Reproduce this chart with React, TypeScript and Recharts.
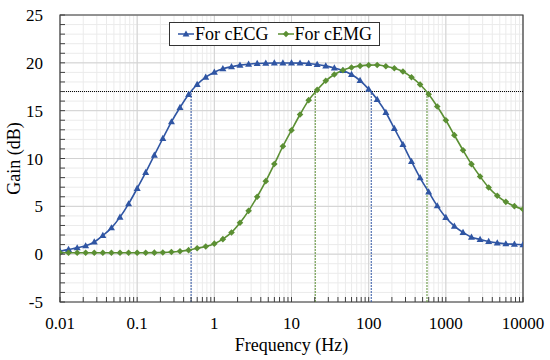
import {
  CartesianGrid,
  Legend,
  Line,
  LineChart,
  ReferenceArea,
  ReferenceLine,
  XAxis,
  YAxis,
} from "recharts";

// Sample frequencies (Hz), 9 points per decade.
const frequencies = [
  0.01, 0.0129, 0.0167, 0.0215, 0.0278, 0.0359, 0.0464, 0.0599, 0.0774,
  0.1, 0.129, 0.167, 0.215, 0.278, 0.359, 0.464, 0.599, 0.774,
  1, 1.29, 1.67, 2.15, 2.78, 3.59, 4.64, 5.99, 7.74,
  10, 12.9, 16.7, 21.5, 27.8, 35.9, 46.4, 59.9, 77.4,
  100, 129, 167, 215, 278, 359, 464, 599, 774,
  1000, 1290, 1670, 2150, 2780, 3590, 4640, 5990, 7740,
  10000,
];

const gainECG = [
  0.31, 0.5, 0.66, 0.87, 1.27, 1.95, 2.75, 3.87, 5.26,
  6.87, 8.54, 10.35, 12.09, 13.83, 15.33, 16.69, 17.73, 18.5,
  19.02, 19.38, 19.6, 19.76, 19.86, 19.93, 19.96, 19.98, 19.99,
  19.99, 19.97, 19.93, 19.83, 19.68, 19.47, 19.2, 18.78, 18.15,
  17.25, 16.17, 14.81, 13.14, 11.47, 9.69, 7.98, 6.51, 5.05,
  3.84, 2.93, 2.27, 1.78, 1.54, 1.33, 1.18, 1.08, 1.03,
  0.98,
];

const gainEMG = [
  0.15, 0.15, 0.15, 0.15, 0.15, 0.15, 0.15, 0.15, 0.15,
  0.15, 0.15, 0.16, 0.18, 0.22, 0.3, 0.42, 0.62, 0.8,
  1.1, 1.57, 2.27, 3.28, 4.53, 6.0, 7.63, 9.42, 11.28,
  12.96, 14.6, 16.1, 17.17, 18.12, 18.78, 19.23, 19.51, 19.68,
  19.76, 19.77, 19.65, 19.44, 19.1, 18.5, 17.73, 16.72, 15.43,
  14.0, 12.44, 10.87, 9.41, 8.12, 6.97, 6.1, 5.47, 5.02,
  4.7,
];

const xTickValues = [
  0.01, 0.02, 0.03, 0.04, 0.05, 0.06, 0.07, 0.08, 0.09,
  0.1, 0.2, 0.3, 0.4, 0.5, 0.6, 0.7, 0.8, 0.9,
  1, 2, 3, 4, 5, 6, 7, 8, 9,
  10, 20, 30, 40, 50, 60, 70, 80, 90,
  100, 200, 300, 400, 500, 600, 700, 800, 900,
  1000, 2000, 3000, 4000, 5000, 6000, 7000, 8000, 9000,
  10000,
];
const xMajorTicks = [0.01, 0.1, 1, 10, 100, 1000, 10000];
const xTickLabels = ["0.01", "0.1", "1", "10", "100", "1000", "10000"];

const yTickValues = [
  -5, -4, -3, -2, -1, 0, 1, 2, 3, 4, 5, 6, 7, 8, 9, 10, 11, 12, 13, 14, 15,
  16, 17, 18, 19, 20, 21, 22, 23, 24, 25,
];
const yMajorTicks = [-5, 0, 5, 10, 15, 20, 25];

// -3 dB level and the cutoff frequencies marked on the plot.
const cutoffLevel = 17;
const cutoffsECG = [0.5, 108];
const cutoffsEMG = [20.3, 570];

const data = frequencies.map((f, i) => ({
  f,
  ecg: gainECG[i],
  emg: gainEMG[i],
}));

const BLUE = "#2F55A3";
const GREEN = "#5B8F33";
const AXIS = "#404040";
const FONT = '"Liberation Serif", "Times New Roman", serif';

function TriangleDot(props: any) {
  const { cx, cy, index } = props;
  if (cx == null || cy == null) return null;
  return (
    <path
      key={`t${index}`}
      d={`M${cx},${cy - 3.7}L${cx + 3.5},${cy + 2.5}L${cx - 3.5},${cy + 2.5}Z`}
      fill={BLUE}
    />
  );
}

function DiamondDot(props: any) {
  const { cx, cy, index } = props;
  if (cx == null || cy == null) return null;
  return (
    <path
      key={`d${index}`}
      d={`M${cx},${cy - 3.3}L${cx + 3.3},${cy}L${cx},${cy + 3.3}L${cx - 3.3},${cy}Z`}
      fill={GREEN}
    />
  );
}

function FreqTick({ x, y, payload }: any) {
  const idx = xMajorTicks.indexOf(payload.value);
  return (
    <g>
      <line x1={x} x2={x} y1={y} y2={y - 5} stroke={AXIS} />
      {idx >= 0 && (
        <text x={x} y={y + 27} textAnchor="middle" fontSize={17} fill="#000">
          {xTickLabels[idx]}
        </text>
      )}
    </g>
  );
}

function GainTick({ x, y, payload }: any) {
  const major = yMajorTicks.includes(payload.value);
  return (
    <g>
      <line x1={x} x2={x + 5} y1={y} y2={y} stroke={AXIS} />
      {major && (
        <text x={x - 17} y={y + 6} textAnchor="end" fontSize={17} fill="#000">
          {payload.value}
        </text>
      )}
    </g>
  );
}

function LegendBox() {
  const items = [
    { label: "For cECG", color: BLUE, shape: "tri" },
    { label: "For cEMG", color: GREEN, shape: "dia" },
  ];
  return (
    <div
      style={{
        display: "flex",
        alignItems: "center",
        gap: 9,
        height: 22,
        padding: "0 7px 0 8px",
        border: "1px solid #333",
        background: "#fff",
        fontFamily: FONT,
        fontSize: 18,
        lineHeight: "22px",
        whiteSpace: "nowrap",
      }}
    >
      {items.map((it) => (
        <div key={it.label} style={{ display: "flex", alignItems: "center" }}>
          <svg width={16} height={10} style={{ marginRight: 1 }}>
            <line x1={0} x2={16} y1={5} y2={5} stroke={it.color} strokeWidth={1.5} />
            {it.shape === "tri" ? (
              <path d="M8,1.4L11.4,7.4L4.6,7.4Z" fill={it.color} />
            ) : (
              <path d="M8,1.8L11.2,5L8,8.2L4.8,5Z" fill={it.color} />
            )}
          </svg>
          <span>{it.label}</span>
        </div>
      ))}
    </div>
  );
}

export default function App() {
  return (
    <div
      style={{
        position: "absolute",
        left: 0,
        top: 0,
        width: 550,
        height: 360,
        background: "#fff",
        fontFamily: FONT,
      }}
    >
      <LineChart
        width={550}
        height={360}
        data={data}
        margin={{ top: 15, right: 27, bottom: 0, left: 0 }}
      >
        <CartesianGrid
          stroke="#EBEBEB"
          horizontalValues={yTickValues}
          verticalValues={xTickValues}
          syncWithTicks
        />
        <CartesianGrid
          stroke="#D2D2D2"
          horizontalValues={yMajorTicks}
          verticalValues={xMajorTicks}
          syncWithTicks
        />
        <XAxis
          dataKey="f"
          type="number"
          scale="log"
          domain={[0.01, 10000]}
          allowDataOverflow
          ticks={xTickValues}
          interval={0}
          tick={<FreqTick />}
          tickLine={false}
          tickSize={0}
          tickMargin={0}
          axisLine={false}
          height={58}
          label={{
            value: "Frequency (Hz)",
            position: "insideBottom",
            offset: 9,
            fontSize: 18,
            fill: "#000",
          }}
        />
        <YAxis
          type="number"
          domain={[-5, 25]}
          allowDataOverflow
          ticks={yTickValues}
          interval={0}
          tick={<GainTick />}
          tickLine={false}
          tickSize={0}
          tickMargin={0}
          axisLine={false}
          width={60}
          label={{
            value: "Gain (dB)",
            angle: -90,
            position: "insideLeft",
            offset: 14,
            fontSize: 18,
            fill: "#000",
            style: { textAnchor: "middle" },
          }}
        />
        <ReferenceLine
          y={cutoffLevel}
          stroke="#000"
          strokeWidth={1}
          strokeDasharray="1 1"
        />
        {cutoffsECG.map((f) => (
          <ReferenceLine
            key={`e${f}`}
            segment={[
              { x: f, y: -5 },
              { x: f, y: cutoffLevel },
            ]}
            stroke={BLUE}
            strokeDasharray="2 1"
          />
        ))}
        {cutoffsEMG.map((f) => (
          <ReferenceLine
            key={`m${f}`}
            segment={[
              { x: f, y: -5 },
              { x: f, y: cutoffLevel },
            ]}
            stroke={GREEN}
            strokeDasharray="2 1"
          />
        ))}
        <Line
          type="monotone"
          dataKey="ecg"
          name="For cECG"
          stroke={BLUE}
          strokeWidth={1.6}
          dot={TriangleDot}
          activeDot={false}
          isAnimationActive={false}
        />
        <Line
          type="monotone"
          dataKey="emg"
          name="For cEMG"
          stroke={GREEN}
          strokeWidth={1.6}
          dot={DiamondDot}
          activeDot={false}
          isAnimationActive={false}
        />
        <ReferenceArea
          x1={0.01}
          x2={10000}
          y1={-5}
          y2={25}
          fill="none"
          fillOpacity={0}
          stroke={AXIS}
          strokeWidth={1.2}
        />
        <Legend
          layout="horizontal"
          verticalAlign="middle"
          align="center"
          content={<LegendBox />}
          wrapperStyle={{ left: 169, top: 22, width: "auto" }}
        />
      </LineChart>
    </div>
  );
}
